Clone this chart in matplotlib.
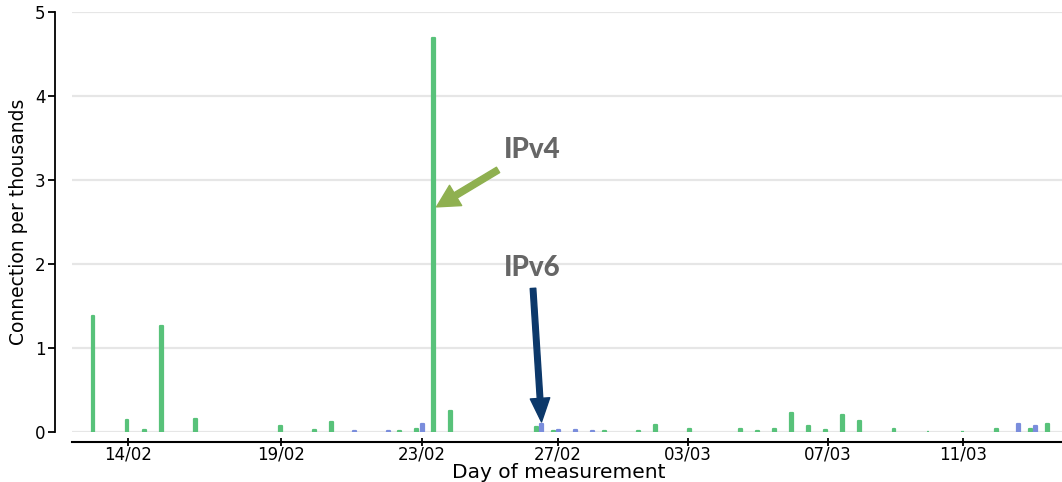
import numpy as np
import matplotlib
matplotlib.use("Agg")
import matplotlib.pyplot as plt

# connections per thousand, one slot per measurement run
ipv4 = [1.38, 0, 0.14, 0.02, 1.26, 0, 0.16, 0, 0, 0,
        0, 0.07, 0, 0.02, 0.12, 0, 0, 0, 0.01, 0.03,
        4.69, 0.25, 0, 0, 0, 0, 0.06, 0.01, 0, 0,
        0.01, 0, 0.01, 0.08, 0, 0.03, 0, 0, 0.03, 0.01,
        0.03, 0.23, 0.07, 0.02, 0.20, 0.13, 0, 0.03, 0, 0.003,
        0, 0.003, 0, 0.04, 0, 0.04, 0.09]
ipv6 = [0, 0, 0, 0, 0, 0, 0, 0, 0, 0,
        0, 0, 0, 0, 0, 0.01, 0, 0.01, 0, 0.09,
        0, 0, 0, 0, 0, 0, 0.10, 0.02, 0.02, 0.01,
        0, 0, 0, 0, 0, 0, 0, 0, 0, 0,
        0, 0, 0, 0, 0, 0, 0, 0, 0, 0,
        0, 0, 0, 0, 0.10, 0.07, 0]

tick_pos = [1.9, 10.87, 19.13, 27.1, 34.75, 42.98, 50.88]
tick_labels = ["14/02", "19/02", "23/02", "27/02", "03/03", "07/03", "11/03"]

green = "#58c27a"
blue = "#7a8ddc"

ipv4 = np.array(ipv4)
ipv6 = np.array(ipv6)
idx = np.arange(len(ipv4))

fig = plt.figure(figsize=(10.62, 4.82), dpi=100)
ax = fig.add_axes([72 / 1062, 1 - 432 / 482, 990 / 1062, 420 / 482])

# skip empty slots so they don't leave a stub on the baseline
m4 = ipv4 > 0
m6 = ipv6 > 0
ax.bar(idx[m4] - 0.16, ipv4[m4], width=0.17, color=green, edgecolor=green,
       linewidth=1.6, joinstyle="round", zorder=3)
ax.bar(idx[m6] + 0.16, ipv6[m6], width=0.17, color=blue, edgecolor=blue,
       linewidth=1.6, joinstyle="round", zorder=3)

ax.set_xlim(-1.39, 56.7)
ax.set_ylim(0, 5)

ax.set_yticks([0, 1, 2, 3, 4, 5])
ax.yaxis.grid(True, color="#e6e6e6", linewidth=1.6)
ax.set_axisbelow(True)

ax.set_xticks(tick_pos)
ax.set_xticklabels(tick_labels)

for s in ["top", "right"]:
    ax.spines[s].set_visible(False)
ax.spines["left"].set_position(("outward", 12))
ax.spines["left"].set_bounds(0, 5)
ax.spines["left"].set_linewidth(1.3)
ax.spines["bottom"].set_position(("outward", 7))
ax.spines["bottom"].set_linewidth(1.5)

ax.tick_params(axis="y", direction="out", length=5, width=1.3, labelsize=12, pad=2)
ax.tick_params(axis="x", direction="inout", length=6, width=1.3, labelsize=12, pad=0)

ax.set_ylabel("Connection per thousands", fontsize=13.5, labelpad=5)
ax.set_xlabel("Day of measurement", fontsize=14.5)
ax.xaxis.set_label_coords(0.492, -0.075)

# callouts
ax.annotate("", xy=(20.0, 2.68), xytext=(23.61, 3.12),
            arrowprops=dict(arrowstyle="simple,head_width=1.7,head_length=1.6,tail_width=0.45",
                            color="#8fb050", shrinkA=0, shrinkB=0, mutation_scale=10),
            zorder=5)
ax.text(25.6, 3.36, "IPv4", fontsize=20, fontweight="black", family="Lato",
        color="#666666", ha="center", va="center")

ax.annotate("", xy=(26.16, ipv6[26] + 0.02), xytext=(25.66, 1.71),
            arrowprops=dict(arrowstyle="simple,head_width=1.4,head_length=1.7,tail_width=0.4",
                            color="#0c386a", shrinkA=0, shrinkB=0, mutation_scale=10),
            zorder=5)
ax.text(25.6, 1.95, "IPv6", fontsize=20, fontweight="black", family="Lato",
        color="#666666", ha="center", va="center")

fig.savefig("out.png", dpi=100)
